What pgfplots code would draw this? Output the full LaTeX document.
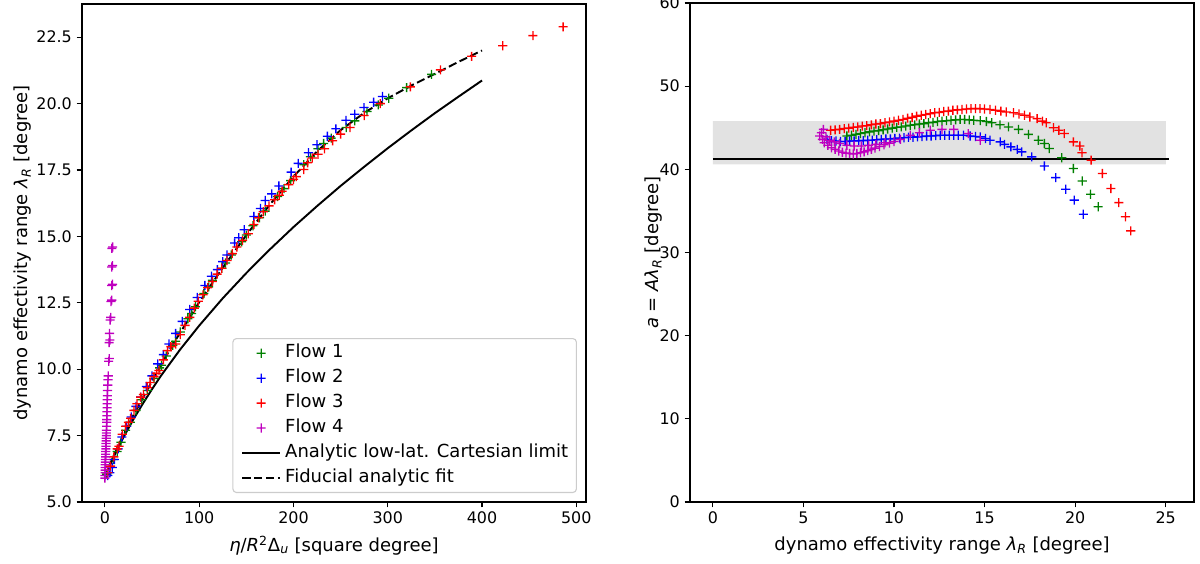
\documentclass[border=0pt]{standalone}
\usepackage{pgfplots}
\pgfplotsset{compat=1.18}
\usepackage{fontspec}
\setmainfont{DejaVu Sans}

\definecolor{mplgreen}{rgb}{0,0.5,0}
\definecolor{mplblue}{rgb}{0,0,1}
\definecolor{mplred}{rgb}{1,0,0}
\definecolor{mplmag}{rgb}{0.75,0,0.75}
\definecolor{bandgray}{gray}{0.885}
\definecolor{legedge}{gray}{0.8}

% "+" mark built from two filled bars, coloured inside the mark code
\newcommand\defplus[2]{%
  \pgfdeclareplotmark{#1}{%
    \pgfsetfillcolor{#2}%
    \pgfpathrectangle{\pgfqpoint{-\pgfplotmarksize}{-0.48pt}}{\pgfqpoint{2\pgfplotmarksize}{0.96pt}}%
    \pgfpathrectangle{\pgfqpoint{-0.48pt}{-\pgfplotmarksize}}{\pgfqpoint{0.96pt}{2\pgfplotmarksize}}%
    \pgfusepathqfill}}
\defplus{pgreen}{mplgreen}
\defplus{pblue}{mplblue}
\defplus{pred}{mplred}
\defplus{pmag}{mplmag}

\pgfplotsset{
  mpl/.style={
    scale only axis, width=5.04in, anchor=south west,
    axis line style={line width=0.8pt},
    tick align=outside, xtick pos=bottom, ytick pos=left,
    major tick length=3.8pt,
    tick style={black, line width=0.8pt},
    /pgf/number format/assume math mode=true,
    ticklabel style={font=\fontsize{11.5}{13}\selectfont},
    label style={font=\fontsize{13}{15}\selectfont},
  },
  flow/.style={only marks, mark=#1, mark size=3.3pt},
}

\begin{document}
\begin{tikzpicture}
\useasboundingbox (0,0) rectangle (12in,5.64in);

% left panel: lambda_R against eta/R^2 Delta_u
\begin{axis}[mpl,
  at={(0.82in,0.62in)}, height=4.98in,
  xmin=-24.3, xmax=510.3, ymin=5.0, ymax=23.75,
  xtick={0,100,...,500},
  ytick={5,7.5,...,22.5},
  yticklabel style={/pgf/number format/.cd, fixed, fixed zerofill, precision=1},
  xlabel={{\itshape η}/{\itshape R}\textsuperscript{2}Δ\textsubscript{\itshape u} [square degree]},
  ylabel={dynamo effectivity range {\itshape λ}\textsubscript{\itshape R} [degree]},
  xlabel style={at={(axis description cs:0.5,-0.087)}, anchor=center},
  ylabel style={at={(axis description cs:-0.118,0.5)}, anchor=center},
  legend style={at={(0.982,0.018)}, anchor=south east, draw=legedge, line width=0.8pt,
    rounded corners=2.5pt, fill=white, inner xsep=6pt, inner ysep=4.5pt,
    row sep=5.8pt, column sep=3pt, font=\fontsize{13}{15}\selectfont,
    nodes={inner sep=0pt, text height=9.5pt, text depth=2.7pt}},
  legend cell align=left,
  legend image code/.code={\draw[mark repeat=2,mark phase=2,#1] plot coordinates {(0pt,0pt) (13.7pt,0pt) (27.4pt,0pt)};},
]
\addplot[flow=pgreen] coordinates {
(2,6.05) (5,6.3) (9,6.6) (13,6.9) (17,7.25) (22,7.7) (27,8.0) (33,8.45) (39,8.85) (45,9.2)
(52,9.65) (58,10.05) (60,10.15) (65,10.5) (72,10.9) (75,11.05) (80,11.4) (88,11.9) (92,12.1)
(96,12.35) (105,12.85) (110,13.1) (114,13.35) (124,13.8) (128,14.0) (134,14.3) (145,14.8)
(150,15.05) (157,15.4) (164,15.7) (170,15.95) (183,16.5) (190,16.8) (197,17.1) (211,17.7)
(218,18.0) (226,18.3) (232,18.5) (240,18.7) (256,19.1) (265,19.35) (278,19.7) (290,19.95)
(301,20.2) (320,20.6) (346.5,21.1)};
\addplot[flow=pblue] coordinates {
(3,6.0) (5.3,6.1) (7.8,6.3) (10,6.6) (14,7.0) (18,7.45) (23,7.85) (28,8.2) (33,8.6) (38,8.95)
(44,9.35) (50,9.75) (56,10.2) (62,10.55) (68,10.95) (75,11.35) (82,11.8) (90,12.25) (98,12.7)
(106,13.15) (113,13.5) (119.3,13.75) (125,14.05) (129.5,14.3) (137.6,14.75) (142,14.95)
(147.8,15.25) (158,15.75) (165,16.05) (170,16.35) (177,16.6) (184.5,16.9) (197.5,17.42)
(205,17.75) (216,18.15) (225,18.45) (236,18.77) (245,19.05) (255.7,19.37) (265,19.6)
(274.8,19.85) (285,20.05) (294.4,20.27)};
\addplot[flow=pred] coordinates {
(3,6.1) (6,6.35) (9.5,6.7) (13,7.0) (15,7.1) (18.4,7.55) (22,7.85) (25,8.0) (27.3,8.15)
(30.8,8.45) (34,8.7) (37.9,8.95) (41,9.05) (45,9.3) (48,9.5) (52,9.72) (55,9.85) (57.4,9.95)
(62,10.35) (66.3,10.7) (70,10.85) (75.2,10.95) (80,11.3) (85,11.65) (90,11.95) (94.7,12.3)
(99,12.56) (104,12.8) (109,13.07) (114,13.3) (119,13.58) (124,13.8) (129.5,14.09) (135,14.35)
(140,14.6) (146,14.85) (152,15.1) (158,15.45) (163,15.7) (168,15.93) (174,16.15) (180,16.38)
(185,16.55) (188,16.7) (195,16.95) (200,17.15) (203,17.25) (211,17.52) (215,17.77) (220,17.95)
(226,18.09) (233,18.3) (241.5,18.6) (250,18.85) (260,19.1) (275,19.55) (292,20.0) (324,20.63)
(356,21.27) (389,21.78) (422,22.18) (454,22.56) (486,22.89)};
\addplot[flow=pmag] coordinates {
(0.0,5.90) (0.1,6.0) (0.2,6.1) (0.3,6.2) (0.3,6.3) (0.4,6.4) (0.5,6.5) (0.6,6.6) (0.7,6.7)
(0.8,6.8) (0.9,6.9) (1.0,7.0) (1.1,7.1) (1.2,7.2) (1.3,7.3) (1.4,7.4) (1.5,7.5) (1.6,7.6)
(1.7,7.7) (1.8,7.85) (1.9,8.0) (2.0,8.1) (2.1,8.25) (2.2,8.4) (2.3,8.55) (2.4,8.7) (2.5,8.85)
(2.6,9.0) (2.8,9.2) (3.0,9.4) (3.3,9.6) (3.6,9.75) (4.0,10.3) (4.6,10.4) (4.5,11.0) (5.3,11.1)
(4.9,11.35) (5.5,11.85) (6.2,11.95) (6.5,12.55) (7.2,12.6) (7.3,13.15) (8.1,13.2) (7.3,13.85)
(8.1,13.9) (7.4,14.55) (8.2,14.6)};
\addplot[black, line width=1.4pt] coordinates {
(0,5.97) (10,6.75) (20,7.46) (30,8.10) (40,8.69) (50,9.25) (60,9.78) (80,10.75) (100,11.64)
(125,12.67) (150,13.62) (175,14.51) (200,15.35) (225,16.14) (250,16.90) (275,17.62) (300,18.32)
(325,18.99) (350,19.64) (375,20.26) (400,20.87)};
\addplot[black, line width=1.4pt, dash pattern=on 6pt off 2.6pt] coordinates {
(0,5.97) (10,6.8) (20,7.55) (30,8.25) (40,8.9) (50,9.55) (60,10.2) (75,11.1) (100,12.52)
(125,13.82) (150,15.05) (175,16.2) (200,17.25) (225,18.2) (250,19.0) (275,19.65) (300,20.2)
(325,20.68) (350,21.12) (375,21.57) (400,22.0)};
\legend{Flow 1, Flow 2, Flow 3, Flow 4, Analytic low-lat. Cartesian limit, Fiducial analytic fit}
\end{axis}

% right panel: a = A lambda_R against lambda_R
\begin{axis}[mpl,
  at={(6.90in,0.62in)}, height=4.99in,
  xmin=-1.26, xmax=26.56, ymin=0, ymax=60,
  xtick={0,5,...,25}, ytick={0,10,...,60},
  xlabel={dynamo effectivity range {\itshape λ}\textsubscript{\itshape R} [degree]},
  ylabel={{\itshape a} = {\itshape Aλ}\textsubscript{\itshape R} [degree]},
  xlabel style={at={(axis description cs:0.5,-0.087)}, anchor=center},
  ylabel style={at={(axis description cs:-0.073,0.5)}, anchor=center},
]
\addplot[fill=bandgray, draw=none] coordinates {(0,40.6) (25,40.6) (25,45.8) (0,45.8) (0,40.6)};
\addplot[black, line width=1.4pt] coordinates {(0,41.2) (25.2,41.2)};
\addplot[flow=pgreen] coordinates {
(7.40,44.00) (7.65,44.10) (7.90,44.20) (8.15,44.30) (8.40,44.40) (8.65,44.50) (8.90,44.60)
(9.15,44.65) (9.40,44.75) (9.65,44.85) (9.90,44.95) (10.15,45.05) (10.40,45.10) (10.65,45.20)
(10.90,45.30) (11.15,45.35) (11.40,45.45) (11.65,45.50) (11.90,45.60) (12.15,45.65) (12.40,45.75)
(12.65,45.80) (12.90,45.85) (13.15,45.90) (13.40,45.95) (13.65,46.00) (13.90,46.00) (14.15,45.95)
(14.40,45.90) (14.76,45.85) (15.10,45.75) (15.40,45.60) (15.85,45.35) (16.32,45.10) (16.87,44.80)
(17.42,44.20) (17.97,43.50) (18.30,43.10) (18.57,42.50) (19.26,41.40) (19.90,40.10) (20.39,38.60)
(20.85,37.00) (21.27,35.50)};
\addplot[flow=pblue] coordinates {
(6.30,43.60) (6.55,43.45) (6.80,43.40) (7.05,43.35) (7.30,43.35) (7.55,43.40) (7.80,43.40)
(8.05,43.45) (8.30,43.45) (8.55,43.50) (8.80,43.50) (9.05,43.55) (9.30,43.60) (9.55,43.65)
(9.80,43.65) (10.05,43.70) (10.30,43.75) (10.55,43.80) (10.80,43.85) (11.05,43.85) (11.30,43.90)
(11.55,43.95) (11.80,44.00) (12.05,44.00) (12.30,44.05) (12.55,44.10) (12.80,44.10) (13.05,44.10)
(13.30,44.10) (13.55,44.10) (13.84,44.10) (14.20,44.00) (14.50,43.95) (14.76,43.90) (15.05,43.70)
(15.30,43.50) (15.86,43.30) (16.10,43.00) (16.45,42.70) (16.80,42.40) (17.05,42.10) (17.60,41.50)
(18.30,40.40) (18.93,39.00) (19.48,37.60) (19.95,36.30) (20.45,34.60)};
\addplot[flow=pred] coordinates {
(6.50,44.70) (6.75,44.75) (7.00,44.80) (7.25,44.90) (7.50,44.95) (7.75,45.05) (8.00,45.10)
(8.25,45.20) (8.50,45.25) (8.75,45.35) (9.00,45.45) (9.25,45.50) (9.50,45.60) (9.75,45.70)
(10.00,45.80) (10.25,45.90) (10.50,46.00) (10.75,46.15) (11.00,46.25) (11.25,46.40) (11.50,46.50)
(11.75,46.60) (12.00,46.70) (12.25,46.80) (12.50,46.85) (12.75,46.95) (13.00,47.00) (13.25,47.10)
(13.50,47.15) (13.75,47.20) (14.00,47.25) (14.25,47.30) (14.50,47.30) (14.75,47.30) (15.00,47.25)
(15.30,47.20) (15.60,47.10) (15.90,47.00) (16.20,46.90) (16.60,46.80) (16.90,46.65) (17.20,46.50)
(17.50,46.30) (17.90,46.10) (18.20,45.80) (18.40,45.60) (18.80,45.00) (19.10,44.70) (19.40,44.30)
(19.90,43.30) (20.26,42.80) (20.38,42.00) (20.88,41.10) (21.50,39.50) (21.97,37.70) (22.41,36.00)
(22.78,34.30) (23.07,32.60)};
\addplot[flow=pmag] coordinates {
(5.90,44.00) (6.00,44.40) (6.10,44.80) (6.05,43.60) (6.15,43.20) (6.25,43.90) (6.35,42.90)
(6.45,43.50) (6.55,42.60) (6.70,43.30) (6.75,42.40) (6.95,42.20) (7.00,43.10) (7.15,42.05)
(7.35,41.95) (7.40,42.90) (7.55,41.90) (7.75,41.85) (7.80,42.80) (7.95,41.90) (8.15,42.00)
(8.20,42.80) (8.35,42.10) (8.55,42.25) (8.60,42.90) (8.75,42.40) (8.95,42.55) (9.00,43.00)
(9.20,42.75) (9.45,42.95) (9.50,43.20) (9.75,43.15) (10.00,43.35) (10.35,43.60) (10.90,44.10)
(11.40,44.40) (12.00,44.70) (12.65,44.80) (13.30,44.80) (14.10,44.30) (14.76,43.50)};
\end{axis}
\end{tikzpicture}
\end{document}
